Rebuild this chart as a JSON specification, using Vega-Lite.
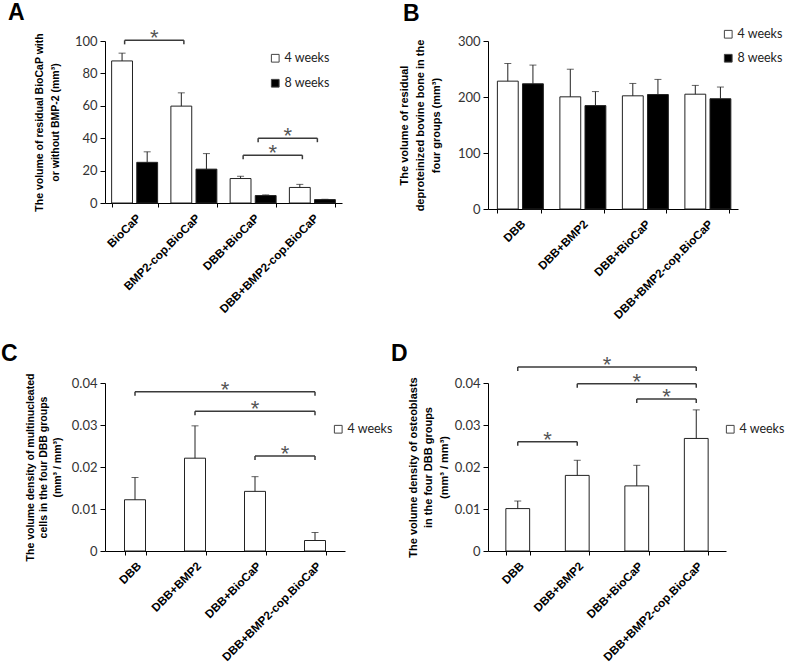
{
  "$schema": "https://vega.github.io/schema/vega-lite/v6.json",
  "background": "white",
  "padding": {"left": 1, "top": 2, "right": 5, "bottom": 3},
  "datasets": {
    "A": [
      {"group": "BioCaP", "series": "4 weeks", "value": 87.7, "err": 92.5},
      {"group": "BioCaP", "series": "8 weeks", "value": 25.1, "err": 31.6},
      {"group": "BMP2-cop.BioCaP", "series": "4 weeks", "value": 59.8, "err": 68.0},
      {"group": "BMP2-cop.BioCaP", "series": "8 weeks", "value": 20.9, "err": 30.5},
      {"group": "DBB+BioCaP", "series": "4 weeks", "value": 15.1, "err": 16.5},
      {"group": "DBB+BioCaP", "series": "8 weeks", "value": 4.6, "err": 5.0},
      {"group": "DBB+BMP2-cop.BioCaP", "series": "4 weeks", "value": 9.6, "err": 11.5},
      {"group": "DBB+BMP2-cop.BioCaP", "series": "8 weeks", "value": 2.1, "err": 2.3}
    ],
    "B": [
      {"group": "DBB", "series": "4 weeks", "value": 228.3, "err": 259.8},
      {"group": "DBB", "series": "8 weeks", "value": 223.6, "err": 257.0},
      {"group": "DBB+BMP2", "series": "4 weeks", "value": 200.3, "err": 249.6},
      {"group": "DBB+BMP2", "series": "8 weeks", "value": 184.6, "err": 209.7},
      {"group": "DBB+BioCaP", "series": "4 weeks", "value": 202.1, "err": 224.2},
      {"group": "DBB+BioCaP", "series": "8 weeks", "value": 204.4, "err": 231.4},
      {"group": "DBB+BMP2-cop.BioCaP", "series": "4 weeks", "value": 205.0, "err": 220.7},
      {"group": "DBB+BMP2-cop.BioCaP", "series": "8 weeks", "value": 196.9, "err": 217.8}
    ],
    "C": [
      {"group": "DBB", "series": "4 weeks", "value": 0.0122, "err": 0.0175},
      {"group": "DBB+BMP2", "series": "4 weeks", "value": 0.0221, "err": 0.0298},
      {"group": "DBB+BioCaP", "series": "4 weeks", "value": 0.0142, "err": 0.0177},
      {"group": "DBB+BMP2-cop.BioCaP", "series": "4 weeks", "value": 0.0025, "err": 0.0044}
    ],
    "D": [
      {"group": "DBB", "series": "4 weeks", "value": 0.0101, "err": 0.0119},
      {"group": "DBB+BMP2", "series": "4 weeks", "value": 0.018, "err": 0.0216},
      {"group": "DBB+BioCaP", "series": "4 weeks", "value": 0.0155, "err": 0.0204},
      {"group": "DBB+BMP2-cop.BioCaP", "series": "4 weeks", "value": 0.0268, "err": 0.0336}
    ],
    "A_br1": [
      {"from": 0, "to": 1, "level": 100.4},
      {"from": 2, "to": 3, "level": 29.5}
    ],
    "A_br2": [
      {"from": 2, "to": 3, "level": 40}
    ],
    "C_br": [
      {"from": 0, "to": 3, "level": 0.0379},
      {"from": 1, "to": 3, "level": 0.0333},
      {"from": 2, "to": 3, "level": 0.0226}
    ],
    "D_br": [
      {"from": 0, "to": 3, "level": 0.0438},
      {"from": 1, "to": 3, "level": 0.0398},
      {"from": 2, "to": 3, "level": 0.0362},
      {"from": 0, "to": 1, "level": 0.026}
    ]
  },
  "columns": 2,
  "bounds": "flush",
  "spacing": {"row": 174, "column": 143},
  "resolve": {"scale": {"x": "independent", "y": "independent", "fill": "independent"}, "legend": {"fill": "independent"}},
  "concat": [
    {
      "title": {"text": "A", "anchor": "start", "frame": "group", "dx": -97, "offset": 8, "dy": 6},
      "width": 237, "height": 162,
      "resolve": {"scale": {"x": "independent"}},
      "layer": [
        {
          "data": {"name": "A"},
          "encoding": {
            "x": {"field": "group", "type": "nominal", "sort": null, "scale": {"paddingInner": 0.224, "paddingOuter": 0.112},
                  "axis": {"title": null, "labelAngle": -45, "labelFont": "Liberation Sans", "labelFontWeight": "bold", "labelFontSize": 11.7, "labelColor": "black", "tickBand": "extent", "tickSize": 4, "labelPadding": 5}},
            "xOffset": {"field": "series", "type": "nominal", "scale": {"paddingInner": 0.17, "paddingOuter": 0}}
          },
          "layer": [
            {
              "mark": {"type": "bar", "stroke": "#222", "strokeWidth": 1},
              "encoding": {
                "y": {"field": "value", "type": "quantitative", "scale": {"domain": [0, 100], "nice": false},
                      "axis": {"title": ["The volume of residual BioCaP with", "or without BMP-2 (mm³)"], "values": [0, 20, 40, 60, 80, 100], "tickCount": 10, "labelOverlap": false, "titleFontSize": 10.5, "titleLineHeight": 16, "titlePadding": 14}},
                "fill": {"field": "series", "type": "nominal", "scale": {"domain": ["4 weeks", "8 weeks"], "range": ["white", "black"]},
                         "legend": {"orient": "none", "legendX": 164, "legendY": 11, "rowPadding": 12}}
              }
            },
            {
              "mark": {"type": "rule", "color": "#222", "strokeWidth": 1},
              "encoding": {"y": {"field": "value", "type": "quantitative"}, "y2": {"field": "err"}}
            },
            {
              "mark": {"type": "tick", "color": "#222", "size": 7, "thickness": 1},
              "encoding": {"y": {"field": "err", "type": "quantitative"}}
            }
          ]
        },
        {
          "data": {"name": "A_br1"},
          "encoding": {"x": {"field": "from", "type": "quantitative", "scale": {"domain": [-0.5, 3.5], "nice": false, "zero": false}, "axis": null},
                       "y": {"field": "level", "type": "quantitative", "axis": {"title": ["The volume of residual BioCaP with", "or without BMP-2 (mm³)"], "values": [0, 20, 40, 60, 80, 100], "tickCount": 10, "labelOverlap": false}}},
          "layer": [
            {"mark": {"type": "rule", "color": "#3a3a3a", "strokeWidth": 1.5, "xOffset": -10, "x2Offset": -10, "clip": false}, "encoding": {"x2": {"field": "to"}}},
            {"transform": [{"fold": ["from", "to"], "as": ["end", "pos"]}],
             "mark": {"type": "rule", "color": "#3a3a3a", "strokeWidth": 1.5, "xOffset": -10, "y2Offset": 4, "clip": false},
             "encoding": {"x": {"field": "pos", "type": "quantitative"}, "y2": {"field": "level"}}},
            {"transform": [{"calculate": "(datum.from + datum.to) / 2", "as": "mid"}],
             "mark": {"type": "text", "text": "*", "font": "Liberation Sans", "fontSize": 22, "color": "#555", "baseline": "alphabetic", "align": "center", "dy": 5, "xOffset": -10, "clip": false},
             "encoding": {"x": {"field": "mid", "type": "quantitative"}}}
          ]
        },
        {
          "data": {"name": "A_br2"},
          "encoding": {"x": {"field": "from", "type": "quantitative", "scale": {"domain": [-0.5, 3.5], "nice": false, "zero": false}, "axis": null},
                       "y": {"field": "level", "type": "quantitative", "axis": {"title": ["The volume of residual BioCaP with", "or without BMP-2 (mm³)"], "values": [0, 20, 40, 60, 80, 100], "tickCount": 10, "labelOverlap": false}}},
          "layer": [
            {"mark": {"type": "rule", "color": "#3a3a3a", "strokeWidth": 1.5, "xOffset": 5, "x2Offset": 5, "clip": false}, "encoding": {"x2": {"field": "to"}}},
            {"transform": [{"fold": ["from", "to"], "as": ["end", "pos"]}],
             "mark": {"type": "rule", "color": "#3a3a3a", "strokeWidth": 1.5, "xOffset": 5, "y2Offset": 4, "clip": false},
             "encoding": {"x": {"field": "pos", "type": "quantitative"}, "y2": {"field": "level"}}},
            {"transform": [{"calculate": "(datum.from + datum.to) / 2", "as": "mid"}],
             "mark": {"type": "text", "text": "*", "font": "Liberation Sans", "fontSize": 22, "color": "#555", "baseline": "alphabetic", "align": "center", "dy": 5, "xOffset": 5, "clip": false},
             "encoding": {"x": {"field": "mid", "type": "quantitative"}}}
          ]
        }
      ]
    },
    {
      "title": {"text": "B", "anchor": "start", "frame": "group", "dx": -85, "offset": 8, "dy": 6},
      "width": 250, "height": 168,
      "data": {"name": "B"},
      "encoding": {
        "x": {"field": "group", "type": "nominal", "sort": null, "scale": {"paddingInner": 0.3, "paddingOuter": 0.15},
              "axis": {"title": null, "labelAngle": -45, "labelFont": "Liberation Sans", "labelFontWeight": "bold", "labelFontSize": 11.7, "labelColor": "black", "tickBand": "extent", "tickSize": 4, "labelPadding": 5}},
        "xOffset": {"field": "series", "type": "nominal", "scale": {"paddingInner": 0.2, "paddingOuter": 0}}
      },
      "layer": [
        {
          "mark": {"type": "bar", "stroke": "#222", "strokeWidth": 1},
          "encoding": {
            "y": {"field": "value", "type": "quantitative", "scale": {"domain": [0, 300], "nice": false},
                  "axis": {"title": ["The volume of residual", "deproteinized bovine bone in the", "four groups (mm³)"], "values": [0, 100, 200, 300], "tickCount": 10, "labelOverlap": false, "titleFontSize": 11, "titleLineHeight": 16, "titlePadding": 16}},
            "fill": {"field": "series", "type": "nominal", "scale": {"domain": ["4 weeks", "8 weeks"], "range": ["white", "black"]},
                     "legend": {"orient": "none", "legendX": 234, "legendY": -13, "rowPadding": 11}}
          }
        },
        {
          "mark": {"type": "rule", "color": "#222", "strokeWidth": 1},
          "encoding": {"y": {"field": "value", "type": "quantitative"}, "y2": {"field": "err"}}
        },
        {
          "mark": {"type": "tick", "color": "#222", "size": 7, "thickness": 1},
          "encoding": {"y": {"field": "err", "type": "quantitative"}}
        }
      ]
    },
    {
      "title": {"text": "C", "anchor": "start", "frame": "group", "dx": -104, "offset": 8, "dy": 1},
      "width": 240, "height": 168,
      "resolve": {"scale": {"x": "independent"}},
      "layer": [
        {
          "data": {"name": "C"},
          "encoding": {
            "x": {"field": "group", "type": "nominal", "sort": null, "scale": {"paddingInner": 0.65, "paddingOuter": 0.325},
                  "axis": {"title": null, "labelAngle": -45, "labelFont": "Liberation Sans", "labelFontWeight": "bold", "labelFontSize": 11.7, "labelColor": "black", "tickBand": "extent", "tickSize": 4, "labelPadding": 5}}
          },
          "layer": [
            {
              "mark": {"type": "bar", "stroke": "#222", "strokeWidth": 1},
              "encoding": {
                "y": {"field": "value", "type": "quantitative", "scale": {"domain": [0, 0.04], "nice": false},
                      "axis": {"title": ["The volume density of multinucleated", "cells in the four DBB groups", "(mm³  /  mm³)"], "values": [0, 0.01, 0.02, 0.03, 0.04], "tickCount": 10, "format": "~g", "labelOverlap": false, "titleFontSize": 10.5, "titleLineHeight": 13.5, "titlePadding": 9}},
                "fill": {"field": "series", "type": "nominal", "scale": {"domain": ["4 weeks"], "range": ["white"]},
                         "legend": {"orient": "none", "legendX": 227, "legendY": 40}}
              }
            },
            {
              "mark": {"type": "rule", "color": "#222", "strokeWidth": 1},
              "encoding": {"y": {"field": "value", "type": "quantitative"}, "y2": {"field": "err"}}
            },
            {
              "mark": {"type": "tick", "color": "#222", "size": 7, "thickness": 1},
              "encoding": {"y": {"field": "err", "type": "quantitative"}}
            }
          ]
        },
        {
          "data": {"name": "C_br"},
          "encoding": {"x": {"field": "from", "type": "quantitative", "scale": {"domain": [-0.5, 3.5], "nice": false, "zero": false}, "axis": null},
                       "y": {"field": "level", "type": "quantitative", "axis": {"title": ["The volume density of multinucleated", "cells in the four DBB groups", "(mm³  /  mm³)"], "values": [0, 0.01, 0.02, 0.03, 0.04], "tickCount": 10, "format": "~g", "labelOverlap": false}}},
          "layer": [
            {"mark": {"type": "rule", "color": "#3a3a3a", "strokeWidth": 1.5, "clip": false}, "encoding": {"x2": {"field": "to"}}},
            {"transform": [{"fold": ["from", "to"], "as": ["end", "pos"]}],
             "mark": {"type": "rule", "color": "#3a3a3a", "strokeWidth": 1.5, "y2Offset": 4, "clip": false},
             "encoding": {"x": {"field": "pos", "type": "quantitative"}, "y2": {"field": "level"}}},
            {"transform": [{"calculate": "(datum.from + datum.to) / 2", "as": "mid"}],
             "mark": {"type": "text", "text": "*", "font": "Liberation Sans", "fontSize": 22, "color": "#555", "baseline": "alphabetic", "align": "center", "dy": 5, "clip": false},
             "encoding": {"x": {"field": "mid", "type": "quantitative"}}}
          ]
        }
      ]
    },
    {
      "title": {"text": "D", "anchor": "start", "frame": "group", "dx": -97, "offset": 8, "dy": 20},
      "width": 238, "height": 168,
      "resolve": {"scale": {"x": "independent"}},
      "layer": [
        {
          "data": {"name": "D"},
          "encoding": {
            "x": {"field": "group", "type": "nominal", "sort": null, "scale": {"paddingInner": 0.6, "paddingOuter": 0.3},
                  "axis": {"title": null, "labelAngle": -45, "labelFont": "Liberation Sans", "labelFontWeight": "bold", "labelFontSize": 11.7, "labelColor": "black", "tickBand": "extent", "tickSize": 4, "labelPadding": 5}}
          },
          "layer": [
            {
              "mark": {"type": "bar", "stroke": "#222", "strokeWidth": 1},
              "encoding": {
                "y": {"field": "value", "type": "quantitative", "scale": {"domain": [0, 0.04], "nice": false},
                      "axis": {"title": ["The volume density of osteoblasts", "in the four DBB groups", "(mm³  /  mm³)"], "values": [0, 0.01, 0.02, 0.03, 0.04], "tickCount": 10, "format": "~g", "labelOverlap": false, "titleFontSize": 11, "titleLineHeight": 15.5, "titlePadding": 5}},
                "fill": {"field": "series", "type": "nominal", "scale": {"domain": ["4 weeks"], "range": ["white"]},
                         "legend": {"orient": "none", "legendX": 236, "legendY": 40}}
              }
            },
            {
              "mark": {"type": "rule", "color": "#222", "strokeWidth": 1},
              "encoding": {"y": {"field": "value", "type": "quantitative"}, "y2": {"field": "err"}}
            },
            {
              "mark": {"type": "tick", "color": "#222", "size": 7, "thickness": 1},
              "encoding": {"y": {"field": "err", "type": "quantitative"}}
            }
          ]
        },
        {
          "data": {"name": "D_br"},
          "encoding": {"x": {"field": "from", "type": "quantitative", "scale": {"domain": [-0.5, 3.5], "nice": false, "zero": false}, "axis": null},
                       "y": {"field": "level", "type": "quantitative", "axis": {"title": ["The volume density of osteoblasts", "in the four DBB groups", "(mm³  /  mm³)"], "values": [0, 0.01, 0.02, 0.03, 0.04], "tickCount": 10, "format": "~g", "labelOverlap": false}}},
          "layer": [
            {"mark": {"type": "rule", "color": "#3a3a3a", "strokeWidth": 1.5, "clip": false}, "encoding": {"x2": {"field": "to"}}},
            {"transform": [{"fold": ["from", "to"], "as": ["end", "pos"]}],
             "mark": {"type": "rule", "color": "#3a3a3a", "strokeWidth": 1.5, "y2Offset": 4, "clip": false},
             "encoding": {"x": {"field": "pos", "type": "quantitative"}, "y2": {"field": "level"}}},
            {"transform": [{"calculate": "(datum.from + datum.to) / 2", "as": "mid"}],
             "mark": {"type": "text", "text": "*", "font": "Liberation Sans", "fontSize": 22, "color": "#555", "baseline": "alphabetic", "align": "center", "dy": 5, "clip": false},
             "encoding": {"x": {"field": "mid", "type": "quantitative"}}}
          ]
        }
      ]
    }
  ],
  "config": {
    "view": {"stroke": null},
    "title": {"font": "Liberation Sans", "fontSize": 23, "fontWeight": "bold", "color": "black"},
    "axis": {"grid": false, "domainColor": "black", "tickColor": "black", "labelFont": "Lato", "labelFontSize": 13, "labelColor": "#333", "titleFont": "Liberation Sans", "titleFontWeight": "bold", "titleColor": "black"},
    "axisY": {"tickSize": 5, "labelPadding": 3, "labelOverlap": false, "labelBound": false, "labelFlush": false},
    "legend": {"title": null, "symbolType": "square", "symbolSize": 60, "symbolStrokeColor": "#444", "symbolStrokeWidth": 1, "labelFont": "Lato", "labelFontSize": 12.5, "labelColor": "#222", "labelOffset": 3, "padding": 0}
  }
}
